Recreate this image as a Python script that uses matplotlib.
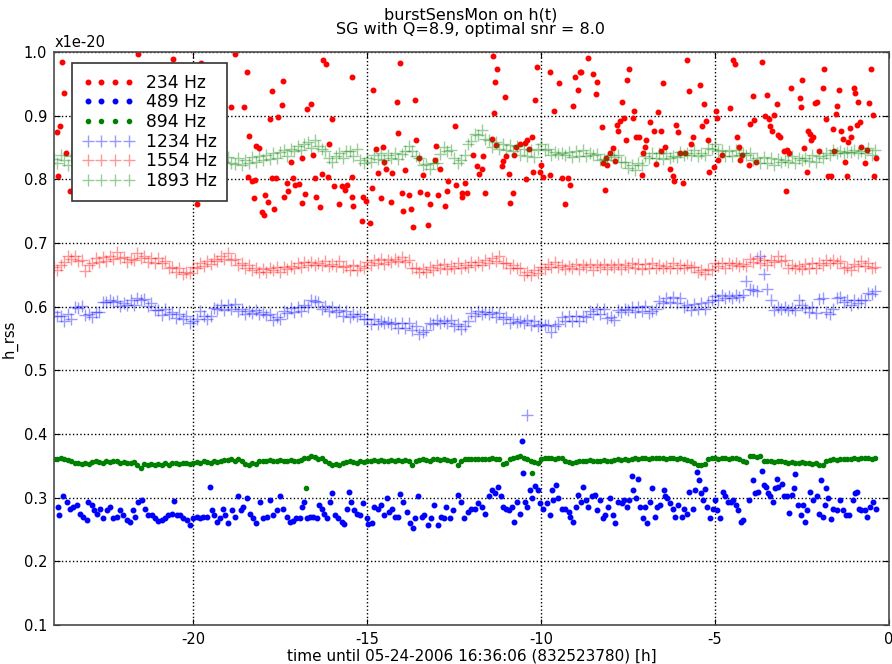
import matplotlib
matplotlib.use("Agg")
import matplotlib.pyplot as plt

plt.rcParams['axes.unicode_minus'] = False
plt.rcParams['font.family'] = 'DejaVu Sans'

# sampling times for the smooth channels [h before 16:36:06]
hours = [
    -24.0, -23.9, -23.8, -23.7, -23.6, -23.5, -23.4, -23.3, -23.2, -23.1,
    -23.0, -22.9, -22.8, -22.7, -22.6, -22.5, -22.4, -22.3, -22.2, -22.1,
    -22.0, -21.9, -21.8, -21.7, -21.6, -21.5, -21.4, -21.3, -21.2, -21.1,
    -21.0, -20.9, -20.8, -20.7, -20.6, -20.5, -20.4, -20.3, -20.2, -20.1,
    -20.0, -19.9, -19.8, -19.7, -19.6, -19.5, -19.4, -19.3, -19.2, -19.1,
    -19.0, -18.9, -18.8, -18.7, -18.6, -18.5, -18.4, -18.3, -18.2, -18.1,
    -18.0, -17.9, -17.8, -17.7, -17.6, -17.5, -17.4, -17.3, -17.2, -17.1,
    -17.0, -16.9, -16.8, -16.7, -16.6, -16.5, -16.4, -16.3, -16.2, -16.1,
    -16.0, -15.9, -15.8, -15.7, -15.6, -15.5, -15.4, -15.3, -15.2, -15.1,
    -15.0, -14.9, -14.8, -14.7, -14.6, -14.5, -14.4, -14.3, -14.2, -14.1,
    -14.0, -13.9, -13.8, -13.7, -13.6, -13.5, -13.4, -13.3, -13.2, -13.1,
    -13.0, -12.9, -12.8, -12.7, -12.6, -12.5, -12.4, -12.3, -12.2, -12.1,
    -12.0, -11.9, -11.8, -11.7, -11.6, -11.5, -11.4, -11.3, -11.2, -11.1,
    -11.0, -10.9, -10.8, -10.7, -10.6, -10.5, -10.4, -10.3, -10.2, -10.1,
    -10.0, -9.9, -9.8, -9.7, -9.6, -9.5, -9.4, -9.3, -9.2, -9.1,
    -9.0, -8.9, -8.8, -8.7, -8.6, -8.5, -8.4, -8.3, -8.2, -8.1,
    -8.0, -7.9, -7.8, -7.7, -7.6, -7.5, -7.4, -7.3, -7.2, -7.1,
    -7.0, -6.9, -6.8, -6.7, -6.6, -6.5, -6.4, -6.3, -6.2, -6.1,
    -6.0, -5.9, -5.8, -5.7, -5.6, -5.5, -5.4, -5.3, -5.2, -5.1,
    -5.0, -4.9, -4.8, -4.7, -4.6, -4.5, -4.4, -4.3, -4.2, -4.1,
    -4.0, -3.9, -3.8, -3.7, -3.6, -3.5, -3.4, -3.3, -3.2, -3.1,
    -3.0, -2.9, -2.8, -2.7, -2.6, -2.5, -2.4, -2.3, -2.2, -2.1,
    -2.0, -1.9, -1.8, -1.7, -1.6, -1.5, -1.4, -1.3, -1.2, -1.1,
    -1.0, -0.9, -0.8, -0.7, -0.6, -0.5, -0.4]

# h_rss in units of 1e-20
h1893 = [
    0.832, 0.826, 0.838, 0.831, 0.823, 0.836, 0.839, 0.828, 0.825, 0.837,
    0.831, 0.838, 0.826, 0.835, 0.829, 0.839, 0.832, 0.825, 0.837, 0.830,
    0.838, 0.828, 0.835, 0.826, 0.839, 0.832, 0.828, 0.837, 0.825, 0.835,
    0.830, 0.838, 0.826, 0.835, 0.840, 0.829, 0.825, 0.837, 0.828, 0.834,
    0.826, 0.835, 0.839, 0.828, 0.833, 0.825, 0.837, 0.830, 0.838, 0.828,
    0.835, 0.826, 0.824, 0.833, 0.822, 0.831, 0.826, 0.835, 0.827, 0.836,
    0.830, 0.838, 0.832, 0.841, 0.834, 0.843, 0.846, 0.837, 0.848, 0.845,
    0.853, 0.846, 0.856, 0.859, 0.849, 0.861, 0.852, 0.847, 0.844, 0.834,
    0.828, 0.836, 0.841, 0.834, 0.844, 0.845, 0.837, 0.848, 0.831, 0.826,
    0.834, 0.827, 0.839, 0.832, 0.841, 0.830, 0.839, 0.833, 0.842, 0.832,
    0.840, 0.845, 0.852, 0.844, 0.836, 0.834, 0.823, 0.824, 0.816, 0.826,
    0.826, 0.840, 0.851, 0.844, 0.846, 0.833, 0.825, 0.831, 0.838, 0.855,
    0.860, 0.871, 0.869, 0.877, 0.864, 0.861, 0.850, 0.858, 0.847, 0.856,
    0.846, 0.854, 0.844, 0.852, 0.839, 0.848, 0.837, 0.846, 0.835, 0.848,
    0.855, 0.846, 0.848, 0.839, 0.843, 0.840, 0.842, 0.839, 0.843, 0.835,
    0.844, 0.836, 0.846, 0.837, 0.841, 0.839, 0.840, 0.831, 0.832, 0.830,
    0.839, 0.835, 0.838, 0.828, 0.828, 0.818, 0.822, 0.815, 0.825, 0.823,
    0.836, 0.834, 0.842, 0.833, 0.841, 0.832, 0.842, 0.834, 0.837, 0.835,
    0.843, 0.839, 0.841, 0.838, 0.846, 0.837, 0.841, 0.839, 0.849, 0.847,
    0.855, 0.845, 0.846, 0.837, 0.845, 0.836, 0.846, 0.838, 0.841, 0.839,
    0.841, 0.831, 0.834, 0.826, 0.835, 0.825, 0.833, 0.823, 0.832, 0.828,
    0.831, 0.827, 0.836, 0.826, 0.834, 0.831, 0.833, 0.829, 0.838, 0.828,
    0.836, 0.833, 0.841, 0.838, 0.846, 0.842, 0.845, 0.841, 0.843, 0.843,
    0.846, 0.842, 0.844, 0.841, 0.849, 0.839, 0.846]

h1554 = [
    0.663, 0.658, 0.665, 0.670, 0.679, 0.675, 0.680, 0.672, 0.673, 0.656,
    0.665, 0.669, 0.677, 0.670, 0.678, 0.671, 0.679, 0.675, 0.686, 0.676,
    0.678, 0.670, 0.675, 0.673, 0.685, 0.677, 0.679, 0.670, 0.677, 0.669,
    0.676, 0.668, 0.671, 0.661, 0.663, 0.655, 0.660, 0.652, 0.655, 0.653,
    0.663, 0.660, 0.668, 0.664, 0.671, 0.667, 0.675, 0.671, 0.679, 0.675,
    0.684, 0.674, 0.675, 0.665, 0.668, 0.660, 0.665, 0.657, 0.661, 0.654,
    0.659, 0.655, 0.660, 0.657, 0.662, 0.655, 0.663, 0.659, 0.664, 0.660,
    0.668, 0.663, 0.670, 0.665, 0.670, 0.666, 0.669, 0.665, 0.672, 0.664,
    0.667, 0.664, 0.671, 0.662, 0.664, 0.657, 0.665, 0.657, 0.664, 0.660,
    0.670, 0.666, 0.673, 0.668, 0.675, 0.667, 0.674, 0.670, 0.675, 0.671,
    0.678, 0.670, 0.673, 0.661, 0.661, 0.654, 0.659, 0.655, 0.663, 0.658,
    0.665, 0.660, 0.667, 0.659, 0.664, 0.660, 0.668, 0.661, 0.666, 0.662,
    0.670, 0.665, 0.670, 0.666, 0.673, 0.669, 0.676, 0.672, 0.679, 0.668,
    0.669, 0.661, 0.665, 0.660, 0.660, 0.650, 0.654, 0.649, 0.657, 0.653,
    0.663, 0.659, 0.667, 0.662, 0.670, 0.663, 0.666, 0.659, 0.664, 0.660,
    0.667, 0.659, 0.666, 0.662, 0.667, 0.658, 0.666, 0.662, 0.667, 0.659,
    0.666, 0.662, 0.667, 0.659, 0.666, 0.663, 0.668, 0.660, 0.667, 0.659,
    0.667, 0.660, 0.668, 0.661, 0.665, 0.660, 0.664, 0.660, 0.668, 0.661,
    0.665, 0.661, 0.666, 0.663, 0.663, 0.654, 0.657, 0.652, 0.659, 0.657,
    0.668, 0.664, 0.669, 0.661, 0.669, 0.665, 0.668, 0.664, 0.667, 0.664,
    0.675, 0.670, 0.677, 0.669, 0.673, 0.666, 0.674, 0.670, 0.679, 0.672,
    0.673, 0.661, 0.665, 0.660, 0.664, 0.659, 0.667, 0.660, 0.668, 0.661,
    0.669, 0.666, 0.674, 0.669, 0.673, 0.668, 0.671, 0.660, 0.663, 0.658,
    0.667, 0.664, 0.671, 0.664, 0.669, 0.660, 0.662]

h1234 = [
    0.592, 0.585, 0.586, 0.578, 0.588, 0.581, 0.599, 0.598, 0.601, 0.587,
    0.589, 0.584, 0.592, 0.592, 0.608, 0.607, 0.611, 0.608, 0.609, 0.601,
    0.606, 0.602, 0.610, 0.603, 0.614, 0.610, 0.612, 0.601, 0.606, 0.594,
    0.595, 0.587, 0.596, 0.588, 0.591, 0.582, 0.589, 0.580, 0.585, 0.575,
    0.577, 0.581, 0.593, 0.586, 0.580, 0.585, 0.598, 0.596, 0.603, 0.595,
    0.602, 0.597, 0.604, 0.593, 0.597, 0.589, 0.593, 0.590, 0.595, 0.588,
    0.592, 0.587, 0.588, 0.579, 0.583, 0.580, 0.593, 0.590, 0.598, 0.591,
    0.600, 0.593, 0.602, 0.600, 0.610, 0.609, 0.608, 0.597, 0.601, 0.593,
    0.600, 0.592, 0.595, 0.585, 0.593, 0.584, 0.589, 0.585, 0.588, 0.580,
    0.580, 0.573, 0.581, 0.572, 0.577, 0.574, 0.576, 0.572, 0.575, 0.567,
    0.575, 0.566, 0.574, 0.564, 0.569, 0.557, 0.561, 0.563, 0.574, 0.572,
    0.579, 0.575, 0.577, 0.574, 0.579, 0.570, 0.573, 0.565, 0.570, 0.577,
    0.590, 0.586, 0.593, 0.589, 0.591, 0.588, 0.592, 0.583, 0.590, 0.581,
    0.584, 0.575, 0.580, 0.576, 0.578, 0.575, 0.579, 0.571, 0.578, 0.569,
    0.573, 0.571, 0.571, 0.560, 0.569, 0.572, 0.583, 0.578, 0.586, 0.577,
    0.585, 0.578, 0.586, 0.583, 0.593, 0.589, 0.597, 0.588, 0.596, 0.582,
    0.584, 0.579, 0.595, 0.592, 0.597, 0.594, 0.599, 0.591, 0.600, 0.593,
    0.601, 0.590, 0.593, 0.597, 0.609, 0.606, 0.614, 0.607, 0.615, 0.605,
    0.613, 0.599, 0.603, 0.595, 0.604, 0.596, 0.605, 0.597, 0.607, 0.610,
    0.617, 0.610, 0.618, 0.613, 0.617, 0.614, 0.619, 0.615, 0.618, 0.641,
    0.628, 0.626, 0.625, 0.679, 0.652, 0.628, 0.610, 0.595, 0.600, 0.596,
    0.599, 0.595, 0.598, 0.594, 0.610, 0.603, 0.598, 0.591, 0.599, 0.590,
    0.612, 0.613, 0.592, 0.588, 0.596, 0.614, 0.615, 0.607, 0.611, 0.603,
    0.610, 0.606, 0.611, 0.611, 0.621, 0.620, 0.624]

h894 = [
    0.360, 0.361, 0.362, 0.360, 0.359, 0.357, 0.355, 0.354, 0.353, 0.355,
    0.353, 0.356, 0.357, 0.356, 0.355, 0.357, 0.356, 0.358, 0.357, 0.355,
    0.356, 0.355, 0.354, 0.356, 0.352, 0.347, 0.353, 0.352, 0.353, 0.351,
    0.353, 0.352, 0.354, 0.352, 0.354, 0.355, 0.353, 0.354, 0.355, 0.353,
    0.355, 0.356, 0.355, 0.357, 0.356, 0.355, 0.357, 0.356, 0.358, 0.359,
    0.359, 0.360, 0.358, 0.360, 0.357, 0.353, 0.352, 0.354, 0.353, 0.357,
    0.357, 0.358, 0.359, 0.357, 0.358, 0.359, 0.357, 0.358, 0.359, 0.358,
    0.357, 0.359, 0.362, 0.363, 0.366, 0.364, 0.361, 0.362, 0.358, 0.354,
    0.352, 0.353, 0.352, 0.354, 0.356, 0.357, 0.356, 0.355, 0.357, 0.356,
    0.358, 0.357, 0.359, 0.358, 0.359, 0.358, 0.357, 0.359, 0.358, 0.359,
    0.358, 0.359, 0.357, 0.351, 0.358, 0.359, 0.360, 0.359, 0.358, 0.360,
    0.360, 0.359, 0.361, 0.359, 0.358, 0.359, 0.352, 0.357, 0.360, 0.361,
    0.361, 0.360, 0.361, 0.360, 0.361, 0.360, 0.362, 0.361, 0.360, 0.353,
    0.354, 0.360, 0.362, 0.364, 0.365, 0.362, 0.361, 0.358, 0.356, 0.355,
    0.361, 0.362, 0.363, 0.362, 0.361, 0.363, 0.362, 0.358, 0.356, 0.355,
    0.356, 0.357, 0.358, 0.357, 0.359, 0.358, 0.357, 0.358, 0.359, 0.357,
    0.358, 0.359, 0.360, 0.359, 0.360, 0.359, 0.361, 0.362, 0.361, 0.363,
    0.362, 0.361, 0.363, 0.362, 0.363, 0.362, 0.361, 0.363, 0.362, 0.361,
    0.362, 0.360, 0.359, 0.357, 0.355, 0.352, 0.351, 0.353, 0.360, 0.362,
    0.362, 0.361, 0.362, 0.363, 0.361, 0.362, 0.363, 0.360, 0.358, 0.356,
    0.365, 0.366, 0.364, 0.365, 0.357, 0.358, 0.357, 0.356, 0.358, 0.357,
    0.356, 0.355, 0.356, 0.354, 0.355, 0.356, 0.354, 0.355, 0.353, 0.354,
    0.351, 0.352, 0.357, 0.359, 0.360, 0.359, 0.360, 0.361, 0.360, 0.361,
    0.362, 0.361, 0.362, 0.363, 0.362, 0.361, 0.362]

# isolated outliers
t894_extra = [-16.75, -10.25]
h894_extra = [0.315, 0.339]
t1234_extra = [-10.4]
h1234_extra = [0.430]

# 234 Hz, noisy channel
t234 = [
    -23.92, -23.87, -23.83, -23.78, -23.70, -23.64, -23.54, -21.58, -20.57, -19.90,
    -19.76, -18.91, -18.80, -18.53, -18.46, -18.41, -18.40, -18.30, -18.26, -18.22,
    -18.18, -18.11, -18.01, -17.95, -17.92, -17.86, -17.79, -17.74, -17.72, -17.67,
    -17.62, -17.57, -17.46, -17.41, -17.38, -17.31, -17.27, -17.19, -17.12, -17.07,
    -16.96, -16.88, -16.86, -16.79, -16.74, -16.61, -16.55, -16.50, -16.47, -16.36,
    -16.31, -16.26, -16.19, -16.13, -16.10, -16.02, -15.94, -15.81, -15.71, -15.64,
    -15.59, -15.44, -15.44, -15.42, -15.40, -15.16, -15.11, -15.03, -14.92, -14.87,
    -14.82, -14.74, -14.68, -14.61, -14.55, -14.52, -14.47, -14.31, -14.27, -14.15,
    -14.10, -14.06, -14.01, -13.96, -13.91, -13.80, -13.75, -13.69, -13.62, -13.58,
    -13.52, -13.48, -13.39, -13.29, -13.26, -13.19, -13.05, -13.02, -12.95, -12.91,
    -12.76, -12.71, -12.67, -12.48, -12.45, -12.28, -12.26, -12.19, -12.14, -11.95,
    -11.85, -11.78, -11.71, -11.66, -11.61, -11.42, -11.37, -11.35, -11.33, -11.30,
    -11.26, -11.13, -11.09, -11.04, -11.02, -10.91, -10.88, -10.82, -10.78, -10.72,
    -10.61, -10.46, -10.43, -10.40, -10.34, -10.27, -10.22, -10.18, -10.11, -10.03,
    -9.99, -9.94, -9.75, -9.73, -9.63, -9.48, -9.41, -9.31, -9.22, -9.17,
    -9.07, -9.01, -8.95, -8.88, -8.84, -8.64, -8.52, -8.42, -8.38, -8.26,
    -8.21, -8.17, -8.14, -8.10, -8.02, -7.93, -7.88, -7.83, -7.78, -7.72,
    -7.66, -7.62, -7.56, -7.52, -7.47, -7.37, -7.33, -7.28, -7.18, -7.11,
    -7.08, -7.02, -6.97, -6.87, -6.76, -6.70, -6.63, -6.56, -6.54, -6.49,
    -6.43, -6.30, -6.22, -6.17, -6.13, -6.07, -6.01, -5.92, -5.87, -5.80,
    -5.74, -5.68, -5.63, -5.44, -5.38, -5.32, -5.26, -5.20, -5.17, -5.03,
    -4.96, -4.94, -4.91, -4.81, -4.57, -4.48, -4.42, -4.38, -4.32, -4.27,
    -4.21, -4.03, -3.98, -3.92, -3.88, -3.83, -3.64, -3.57, -3.52, -3.46,
    -3.41, -3.35, -3.31, -3.23, -3.19, -3.12, -3.02, -2.97, -2.93, -2.87,
    -2.83, -2.56, -2.53, -2.49, -2.43, -2.37, -2.33, -2.28, -2.24, -2.18,
    -2.12, -2.06, -2.01, -1.91, -1.87, -1.82, -1.75, -1.68, -1.62, -1.58,
    -1.53, -1.49, -1.43, -1.38, -1.32, -1.27, -1.22, -1.17, -1.13, -1.08,
    -1.01, -0.97, -0.93, -0.89, -0.84, -0.79, -0.69, -0.63, -0.57, -0.53,
    -0.47, -0.42, -0.38]
h234 = [
    0.875, 0.805, 0.884, 0.985, 0.935, 0.841, 0.781, 0.997, 0.989, 0.762,
    0.982, 0.913, 0.997, 0.913, 0.968, 0.804, 0.868, 0.798, 0.770, 0.799,
    0.852, 0.849, 0.748, 0.744, 0.775, 0.765, 0.894, 0.938, 0.802, 0.753,
    0.802, 0.898, 0.917, 0.955, 0.772, 0.795, 0.781, 0.828, 0.802, 0.791,
    0.793, 0.834, 0.763, 0.777, 0.910, 0.918, 0.838, 0.802, 0.773, 0.756,
    0.808, 0.988, 0.981, 0.804, 0.855, 0.894, 0.790, 0.762, 0.790, 0.783,
    0.791, 0.960, 0.804, 0.773, 0.758, 0.735, 0.773, 0.766, 0.732, 0.786,
    0.940, 0.848, 0.810, 0.771, 0.850, 0.828, 0.816, 0.765, 0.810, 0.922,
    0.873, 0.983, 0.779, 0.751, 0.814, 0.776, 0.754, 0.725, 0.924, 0.862,
    0.834, 0.780, 0.807, 0.777, 0.728, 0.762, 0.830, 0.852, 0.775, 0.816,
    0.758, 0.782, 0.797, 0.883, 0.791, 0.778, 0.772, 0.794, 0.779, 0.838,
    0.821, 0.809, 0.817, 0.836, 0.778, 0.864, 0.993, 0.904, 0.953, 0.854,
    0.974, 0.821, 0.829, 0.930, 0.837, 0.809, 0.763, 0.778, 0.838, 0.851,
    0.855, 0.857, 0.800, 0.862, 0.847, 0.866, 0.812, 0.925, 0.977, 0.812,
    0.822, 0.804, 0.807, 0.969, 0.908, 0.951, 0.802, 0.762, 0.802, 0.791,
    0.915, 0.960, 0.941, 0.969, 0.968, 0.990, 0.965, 0.934, 0.953, 0.882,
    0.825, 0.784, 0.834, 0.822, 0.841, 0.849, 0.829, 0.885, 0.876, 0.891,
    0.922, 0.896, 0.861, 0.956, 0.973, 0.897, 0.908, 0.867, 0.866, 0.807,
    0.842, 0.850, 0.861, 0.890, 0.876, 0.824, 0.906, 0.876, 0.845, 0.952,
    0.850, 0.817, 0.805, 0.797, 0.885, 0.874, 0.841, 0.795, 0.842, 0.987,
    0.939, 0.855, 0.867, 0.948, 0.883, 0.918, 0.892, 0.862, 0.812, 0.820,
    0.908, 0.897, 0.831, 0.839, 0.912, 0.987, 0.981, 0.866, 0.850, 0.830,
    0.838, 0.822, 0.887, 0.931, 0.893, 0.827, 0.985, 0.900, 0.932, 0.894,
    0.883, 0.876, 0.901, 0.918, 0.870, 0.867, 0.845, 0.782, 0.846, 0.842,
    0.944, 0.928, 0.913, 0.956, 0.849, 0.812, 0.876, 0.871, 0.862, 0.866,
    0.920, 0.922, 0.845, 0.944, 0.973, 0.895, 0.806, 0.806, 0.879, 0.845,
    0.903, 0.915, 0.941, 0.876, 0.864, 0.828, 0.805, 0.859, 0.881, 0.867,
    0.943, 0.935, 0.885, 0.922, 0.890, 0.850, 0.825, 0.846, 0.920, 0.973,
    0.901, 0.806, 0.834]

# 489 Hz, noisy channel
t489 = [
    -23.87, -23.86, -23.73, -23.63, -23.54, -23.44, -23.35, -23.25, -23.16, -23.06,
    -23.01, -22.92, -22.84, -22.77, -22.68, -22.58, -22.49, -22.39, -22.29, -22.20,
    -22.10, -22.01, -21.91, -21.82, -21.72, -21.67, -21.58, -21.48, -21.38, -21.29,
    -21.19, -21.10, -21.00, -20.90, -20.81, -20.71, -20.62, -20.54, -20.47, -20.38,
    -20.28, -20.19, -20.09, -19.99, -19.90, -19.80, -19.71, -19.61, -19.52, -19.47,
    -19.39, -19.32, -19.23, -19.13, -19.07, -18.99, -18.89, -18.80, -18.72, -18.63,
    -18.56, -18.46, -18.37, -18.27, -18.18, -18.08, -17.98, -17.89, -17.79, -17.70,
    -17.60, -17.50, -17.41, -17.31, -17.22, -17.12, -17.03, -16.93, -16.86, -16.81,
    -16.74, -16.64, -16.55, -16.45, -16.38, -16.31, -16.23, -16.16, -16.07, -16.00,
    -15.92, -15.83, -15.73, -15.66, -15.59, -15.52, -15.45, -15.37, -15.30, -15.21,
    -15.11, -15.01, -14.97, -14.87, -14.79, -14.70, -14.60, -14.51, -14.44, -14.36,
    -14.28, -14.20, -14.10, -14.06, -13.96, -13.86, -13.77, -13.67, -13.61, -13.53,
    -13.43, -13.36, -13.26, -13.17, -13.07, -12.97, -12.88, -12.78, -12.72, -12.62,
    -12.52, -12.40, -12.30, -12.21, -12.11, -12.00, -11.90, -11.80, -11.70, -11.61,
    -11.51, -11.42, -11.32, -11.23, -11.16, -11.08, -11.01, -10.91, -10.84, -10.79,
    -10.70, -10.60, -10.56, -10.53, -10.46, -10.41, -10.32, -10.27, -10.17, -10.08,
    -10.03, -9.93, -9.84, -9.74, -9.69, -9.65, -9.57, -9.50, -9.41, -9.31,
    -9.21, -9.17, -9.07, -8.99, -8.93, -8.86, -8.78, -8.71, -8.64, -8.54,
    -8.45, -8.40, -8.30, -8.23, -8.16, -8.09, -8.02, -7.92, -7.87, -7.78,
    -7.68, -7.61, -7.54, -7.46, -7.39, -7.35, -7.28, -7.22, -7.15, -7.08,
    -7.01, -6.96, -6.87, -6.81, -6.72, -6.66, -6.58, -6.48, -6.44, -6.37,
    -6.29, -6.22, -6.15, -6.05, -5.96, -5.89, -5.81, -5.74, -5.64, -5.57,
    -5.51, -5.46, -5.41, -5.35, -5.29, -5.22, -5.14, -5.07, -5.00, -4.93,
    -4.86, -4.78, -4.71, -4.62, -4.55, -4.47, -4.40, -4.33, -4.26, -4.20,
    -4.01, -3.92, -3.85, -3.75, -3.66, -3.59, -3.53, -3.47, -3.42, -3.34,
    -3.28, -3.23, -3.18, -3.08, -3.02, -2.94, -2.86, -2.80, -2.73, -2.70,
    -2.61, -2.54, -2.48, -2.41, -2.35, -2.27, -2.17, -2.08, -2.00, -1.96,
    -1.91, -1.84, -1.81, -1.74, -1.68, -1.60, -1.50, -1.41, -1.31, -1.24,
    -1.14, -1.04, -0.98, -0.93, -0.85, -0.79, -0.69, -0.62, -0.55, -0.45,
    -0.37]
h489 = [
    0.286, 0.273, 0.302, 0.294, 0.282, 0.286, 0.288, 0.275, 0.270, 0.265,
    0.294, 0.288, 0.281, 0.275, 0.283, 0.268, 0.281, 0.286, 0.268, 0.269,
    0.281, 0.273, 0.265, 0.262, 0.281, 0.270, 0.294, 0.296, 0.283, 0.273,
    0.273, 0.268, 0.264, 0.265, 0.268, 0.273, 0.275, 0.295, 0.273, 0.273,
    0.268, 0.265, 0.257, 0.268, 0.270, 0.268, 0.270, 0.270, 0.317, 0.281,
    0.273, 0.262, 0.268, 0.283, 0.273, 0.261, 0.281, 0.270, 0.302, 0.281,
    0.286, 0.299, 0.275, 0.268, 0.261, 0.294, 0.268, 0.270, 0.296, 0.273,
    0.281, 0.302, 0.283, 0.270, 0.262, 0.264, 0.268, 0.268, 0.286, 0.294,
    0.268, 0.270, 0.270, 0.268, 0.288, 0.283, 0.275, 0.268, 0.294, 0.307,
    0.273, 0.268, 0.262, 0.259, 0.283, 0.309, 0.294, 0.281, 0.275, 0.273,
    0.291, 0.268, 0.259, 0.260, 0.286, 0.283, 0.288, 0.273, 0.299, 0.278,
    0.283, 0.270, 0.270, 0.306, 0.294, 0.278, 0.260, 0.252, 0.268, 0.302,
    0.270, 0.273, 0.257, 0.268, 0.288, 0.257, 0.270, 0.268, 0.286, 0.268,
    0.281, 0.304, 0.294, 0.268, 0.278, 0.283, 0.283, 0.291, 0.286, 0.275,
    0.302, 0.312, 0.307, 0.316, 0.303, 0.286, 0.283, 0.281, 0.286, 0.262,
    0.294, 0.275, 0.389, 0.338, 0.294, 0.286, 0.312, 0.299, 0.318, 0.312,
    0.291, 0.283, 0.291, 0.273, 0.312, 0.296, 0.320, 0.299, 0.283, 0.283,
    0.278, 0.270, 0.262, 0.286, 0.304, 0.294, 0.317, 0.296, 0.286, 0.302,
    0.304, 0.281, 0.296, 0.268, 0.273, 0.286, 0.299, 0.273, 0.260, 0.294,
    0.291, 0.296, 0.286, 0.296, 0.334, 0.312, 0.299, 0.330, 0.286, 0.268,
    0.286, 0.261, 0.294, 0.315, 0.270, 0.286, 0.288, 0.312, 0.302, 0.299,
    0.291, 0.283, 0.270, 0.288, 0.270, 0.283, 0.275, 0.309, 0.283, 0.312,
    0.341, 0.328, 0.307, 0.297, 0.313, 0.286, 0.268, 0.283, 0.296, 0.281,
    0.268, 0.309, 0.302, 0.294, 0.294, 0.297, 0.288, 0.281, 0.262, 0.265,
    0.297, 0.328, 0.307, 0.309, 0.342, 0.320, 0.316, 0.307, 0.302, 0.294,
    0.315, 0.330, 0.317, 0.322, 0.303, 0.302, 0.276, 0.304, 0.315, 0.337,
    0.288, 0.273, 0.288, 0.262, 0.281, 0.309, 0.297, 0.303, 0.275, 0.327,
    0.270, 0.288, 0.315, 0.299, 0.266, 0.283, 0.281, 0.297, 0.281, 0.273,
    0.273, 0.296, 0.307, 0.309, 0.283, 0.281, 0.281, 0.270, 0.286, 0.294,
    0.283]

fig = plt.figure(figsize=(8.92, 6.64), dpi=100)
ax = fig.add_axes([0.0605, 0.0587, 0.9361, 0.8630])

ax.plot(t234, h234, '.', color='r', ms=6.5, label='234 Hz')
ax.plot(t489, h489, '.', color='b', ms=6.5, label='489 Hz')
ax.plot(hours + t894_extra, h894 + h894_extra, '.', color='g', ms=6, label='894 Hz')
ax.plot(hours + t1234_extra, h1234 + h1234_extra, '+', color='b', ms=8, mew=1, alpha=0.4, label='1234 Hz')
ax.plot(hours, h1554, '+', color='r', ms=8, mew=1, alpha=0.4, label='1554 Hz')
ax.plot(hours, h1893, '+', color='g', ms=8, mew=1, alpha=0.4, label='1893 Hz')

ax.set_xlim(-24, 0)
ax.set_ylim(0.1, 1.0)
ax.set_xticks([-20, -15, -10, -5, 0])
ax.set_yticks([0.1, 0.2, 0.3, 0.4, 0.5, 0.6, 0.7, 0.8, 0.9, 1.0])
ax.grid(True, color='k', linestyle=':', linewidth=1)
ax.tick_params(direction='in', top=True, right=True, length=4, labelsize=10.5, pad=5)
for s in ax.spines.values():
    s.set_color('0.3')
    s.set_linewidth(1.2)

ax.set_xlabel('time until 05-24-2006 16:36:06 (832523780) [h]', fontsize=11, labelpad=1)
ax.set_ylabel('h_rss', fontsize=10.5, labelpad=4)

fig.text(55 / 892, 1 - 47 / 664, 'x1e-20', fontsize=10.5, va='baseline')
fig.text(471 / 892, 1 - 8 / 664, 'burstSensMon on h(t)\nSG with Q=8.9, optimal snr = 8.0',
         ha='center', va='top', fontsize=11.5, linespacing=0.9)

leg = ax.legend(loc='upper left', bbox_to_anchor=(72 / 892, 1 - 63 / 664),
                bbox_transform=fig.transFigure, borderaxespad=0, numpoints=4,
                fontsize=12.3, labelspacing=0.1, handlelength=3.0, handletextpad=0.7,
                borderpad=0.62, fancybox=False, framealpha=1, edgecolor='0.2')
leg.get_frame().set_linewidth(1.2)

fig.savefig('out.png', dpi=100)
